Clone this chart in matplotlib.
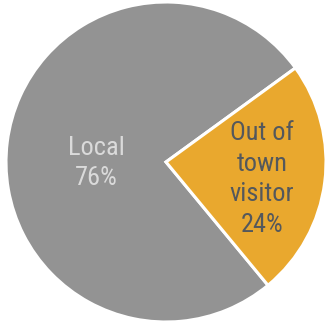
import matplotlib
matplotlib.use("Agg")
import matplotlib.pyplot as plt

categories = ["Local", "Out of town visitor"]
shares = [76, 24]
label_lines = ["Local", "Out of\ntown\nvisitor"]

colors = ["#939393", "#E9A82E"]
text_colors = ["#DADADA", "#54585C"]

W, H = 327, 322
fig = plt.figure(figsize=(W / 100, H / 100), dpi=100)
ax = fig.add_axes([0, 0, 1, 1])

cx, cy, r = 166, H - 162, 160
wedges, _ = ax.pie(
    shares,
    colors=colors,
    startangle=36,
    counterclock=True,
    center=(cx, cy),
    radius=r,
    frame=True,
    wedgeprops=dict(edgecolor="white", linewidth=2.2),
)
ax.set_xlim(0, W)
ax.set_ylim(0, H)
ax.set_aspect("equal")
ax.axis("off")

fam = ["Roboto Condensed", "Roboto", "DejaVu Sans"]
label_pos = [(cx - 70, cy - 1), (cx + 96, cy - 17)]
for name, val, tc, (x, y) in zip(label_lines, shares, text_colors, label_pos):
    ax.text(x, y, f"{name}\n{val}%", ha="center", va="center",
            color=tc, fontsize=19, family=fam, linespacing=1.36)

fig.savefig("out.png", dpi=100)
